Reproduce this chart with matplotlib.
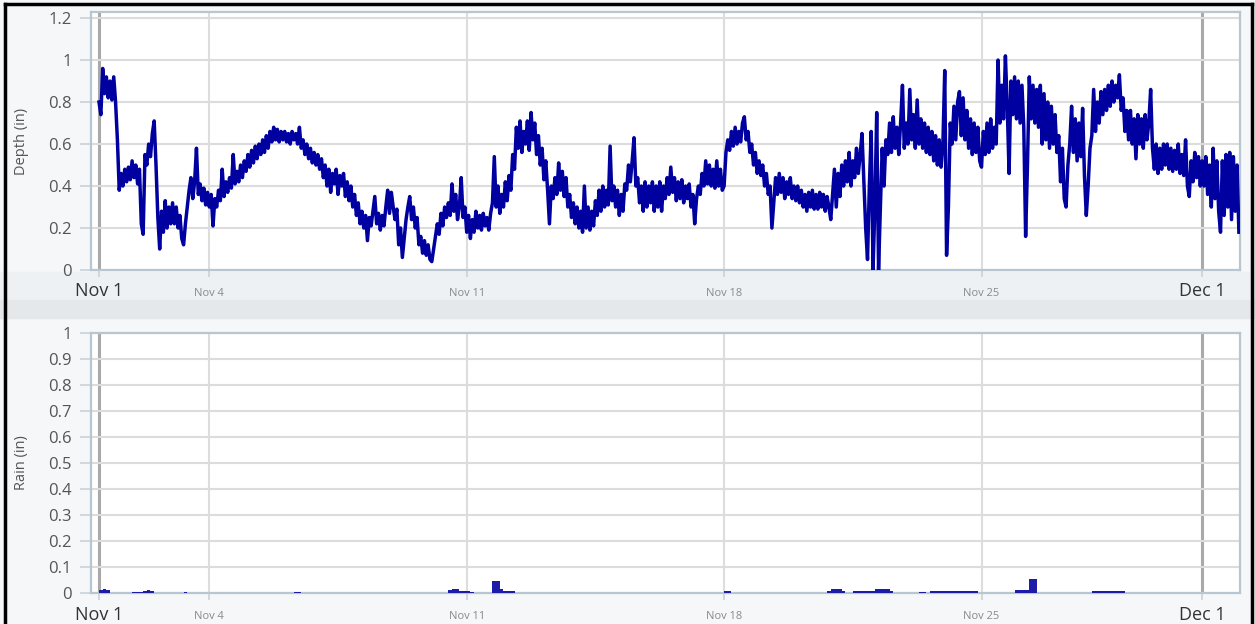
import matplotlib.pyplot as plt
from matplotlib.patches import Rectangle
from matplotlib.lines import Line2D
import pandas as pd

plt.rcParams['font.family'] = ['Open Sans', 'DejaVu Sans']

START = pd.Timestamp('2019-11-01')

# depth (in), one reading every 0.05 day (72 min) from Nov 1
# (one row = one day, 20 readings)
depth_in = [
    0.80, 0.74, 0.96, 0.84, 0.92, 0.82, 0.90, 0.81, 0.92, 0.80, 0.62, 0.38, 0.46, 0.40, 0.48, 0.42, 0.49, 0.43, 0.52, 0.44,
    0.50, 0.41, 0.48, 0.22, 0.17, 0.55, 0.50, 0.60, 0.54, 0.65, 0.71, 0.50, 0.25, 0.10, 0.28, 0.18, 0.33, 0.20, 0.30, 0.22,
    0.32, 0.22, 0.30, 0.20, 0.26, 0.15, 0.12, 0.22, 0.30, 0.38, 0.44, 0.34, 0.42, 0.58, 0.36, 0.41, 0.33, 0.39, 0.31, 0.37,
    0.30, 0.36, 0.21, 0.34, 0.30, 0.38, 0.33, 0.48, 0.35, 0.42, 0.37, 0.44, 0.39, 0.55, 0.41, 0.47, 0.42, 0.50, 0.44, 0.52,
    0.47, 0.55, 0.49, 0.57, 0.51, 0.59, 0.53, 0.60, 0.55, 0.62, 0.56, 0.64, 0.58, 0.66, 0.61, 0.68, 0.62, 0.67, 0.61, 0.66,
    0.62, 0.66, 0.61, 0.65, 0.60, 0.66, 0.62, 0.65, 0.60, 0.68, 0.58, 0.62, 0.55, 0.60, 0.53, 0.58, 0.51, 0.56, 0.50, 0.55,
    0.48, 0.53, 0.44, 0.50, 0.40, 0.48, 0.37, 0.46, 0.41, 0.48, 0.36, 0.45, 0.40, 0.46, 0.35, 0.42, 0.33, 0.40, 0.30, 0.36,
    0.26, 0.32, 0.22, 0.28, 0.20, 0.26, 0.14, 0.25, 0.21, 0.28, 0.35, 0.22, 0.27, 0.19, 0.26, 0.21, 0.30, 0.38, 0.27, 0.37,
    0.30, 0.24, 0.29, 0.12, 0.20, 0.06, 0.15, 0.24, 0.30, 0.35, 0.24, 0.30, 0.20, 0.25, 0.12, 0.16, 0.08, 0.14, 0.07, 0.12,
    0.05, 0.04, 0.10, 0.16, 0.22, 0.17, 0.27, 0.21, 0.30, 0.25, 0.32, 0.26, 0.41, 0.28, 0.36, 0.24, 0.30, 0.44, 0.25, 0.30,
    0.18, 0.26, 0.15, 0.24, 0.18, 0.28, 0.20, 0.26, 0.19, 0.27, 0.21, 0.25, 0.19, 0.27, 0.32, 0.54, 0.30, 0.40, 0.27, 0.36,
    0.30, 0.42, 0.33, 0.45, 0.38, 0.55, 0.48, 0.68, 0.58, 0.71, 0.56, 0.66, 0.60, 0.71, 0.57, 0.75, 0.62, 0.70, 0.55, 0.64,
    0.50, 0.58, 0.43, 0.52, 0.38, 0.22, 0.40, 0.34, 0.44, 0.36, 0.51, 0.38, 0.47, 0.35, 0.44, 0.30, 0.36, 0.25, 0.32, 0.22,
    0.30, 0.20, 0.28, 0.18, 0.40, 0.20, 0.30, 0.19, 0.28, 0.21, 0.33, 0.26, 0.38, 0.28, 0.40, 0.30, 0.38, 0.31, 0.59, 0.33,
    0.40, 0.30, 0.38, 0.26, 0.36, 0.28, 0.41, 0.38, 0.50, 0.42, 0.52, 0.63, 0.40, 0.44, 0.32, 0.40, 0.28, 0.42, 0.30, 0.40,
    0.32, 0.42, 0.28, 0.40, 0.30, 0.42, 0.28, 0.40, 0.34, 0.44, 0.36, 0.49, 0.37, 0.44, 0.33, 0.42, 0.34, 0.43, 0.32, 0.40,
    0.34, 0.41, 0.30, 0.36, 0.22, 0.34, 0.40, 0.36, 0.46, 0.40, 0.52, 0.41, 0.50, 0.40, 0.48, 0.39, 0.52, 0.40, 0.48, 0.38,
    0.40, 0.56, 0.62, 0.57, 0.66, 0.59, 0.68, 0.60, 0.66, 0.61, 0.70, 0.73, 0.62, 0.66, 0.56, 0.60, 0.50, 0.56, 0.46, 0.52,
    0.45, 0.50, 0.40, 0.46, 0.36, 0.40, 0.20, 0.32, 0.44, 0.36, 0.46, 0.37, 0.44, 0.34, 0.42, 0.36, 0.44, 0.34, 0.40, 0.33,
    0.40, 0.32, 0.38, 0.30, 0.36, 0.28, 0.37, 0.30, 0.38, 0.29, 0.36, 0.29, 0.37, 0.30, 0.36, 0.28, 0.35, 0.30, 0.24, 0.36,
    0.48, 0.30, 0.46, 0.35, 0.50, 0.40, 0.52, 0.42, 0.56, 0.40, 0.52, 0.44, 0.58, 0.46, 0.55, 0.65, 0.42, 0.20, 0.05, 0.40,
    0.66, 0.00, 0.30, 0.75, 0.00, 0.30, 0.58, 0.40, 0.62, 0.55, 0.70, 0.56, 0.73, 0.58, 0.68, 0.55, 0.70, 0.88, 0.58, 0.70,
    0.60, 0.86, 0.62, 0.74, 0.58, 0.81, 0.60, 0.72, 0.58, 0.70, 0.56, 0.68, 0.55, 0.66, 0.52, 0.64, 0.50, 0.62, 0.49, 0.60,
    0.95, 0.07, 0.30, 0.70, 0.60, 0.78, 0.62, 0.80, 0.85, 0.64, 0.82, 0.62, 0.76, 0.58, 0.72, 0.55, 0.70, 0.56, 0.68, 0.52,
    0.49, 0.66, 0.55, 0.70, 0.56, 0.72, 0.58, 0.68, 0.60, 1.00, 0.70, 0.88, 0.72, 1.02, 0.78, 0.46, 0.90, 0.74, 0.92, 0.72,
    0.90, 0.70, 0.88, 0.68, 0.16, 0.50, 0.92, 0.72, 0.88, 0.70, 0.86, 0.68, 0.88, 0.60, 0.84, 0.62, 0.80, 0.58, 0.78, 0.60,
    0.74, 0.56, 0.64, 0.42, 0.58, 0.34, 0.30, 0.50, 0.60, 0.78, 0.56, 0.72, 0.52, 0.70, 0.54, 0.77, 0.45, 0.26, 0.40, 0.58,
    0.64, 0.86, 0.66, 0.80, 0.70, 0.85, 0.74, 0.86, 0.76, 0.88, 0.78, 0.90, 0.80, 0.88, 0.82, 0.93, 0.76, 0.82, 0.66, 0.76,
    0.62, 0.76, 0.60, 0.72, 0.53, 0.74, 0.60, 0.72, 0.58, 0.74, 0.62, 0.70, 0.86, 0.58, 0.48, 0.60, 0.46, 0.58, 0.48, 0.60,
    0.50, 0.60, 0.48, 0.58, 0.47, 0.57, 0.48, 0.60, 0.46, 0.55, 0.45, 0.62, 0.40, 0.35, 0.52, 0.42, 0.56, 0.44, 0.54, 0.40,
    0.52, 0.40, 0.54, 0.36, 0.50, 0.30, 0.58, 0.34, 0.52, 0.28, 0.18, 0.52, 0.26, 0.55, 0.30, 0.56, 0.24, 0.54, 0.28, 0.50,
    0.18,
]

# rain (in) in 0.1-day bins, day offset from Nov 1
rain_day = [0.0, 0.1, 0.2, 0.9, 1.0, 1.1, 1.2, 1.3, 1.4, 2.3, 5.3, 5.4,
            9.5, 9.6, 9.7, 9.8, 9.9, 10.0, 10.1, 10.7, 10.8, 10.9, 11.0, 11.1, 11.2,
            17.0, 17.1, 19.8, 19.9, 20.0, 20.1, 20.2,
            20.5, 20.6, 20.7, 20.8, 20.9, 21.0, 21.1, 21.2, 21.3, 21.4, 21.5,
            22.3, 22.4, 22.6, 22.7, 22.8, 22.9, 23.0, 23.1, 23.2, 23.3, 23.4,
            23.5, 23.6, 23.7, 23.8, 24.9, 25.0, 25.1, 25.2, 25.3, 25.4,
            27.0, 27.1, 27.2, 27.3, 27.4, 27.5, 27.6, 27.7, 27.8]
rain_in = [0.010, 0.014, 0.010, 0.004, 0.004, 0.004, 0.006, 0.012, 0.006, 0.004, 0.005, 0.005,
           0.012, 0.015, 0.015, 0.006, 0.006, 0.006, 0.005, 0.045, 0.045, 0.015, 0.008, 0.006, 0.006,
           0.006, 0.006, 0.007, 0.015, 0.015, 0.015, 0.007,
           0.006, 0.006, 0.006, 0.006, 0.006, 0.006, 0.015, 0.015, 0.015, 0.015, 0.006,
           0.005, 0.005, 0.007, 0.007, 0.007, 0.007, 0.007, 0.007, 0.007, 0.007, 0.007,
           0.007, 0.007, 0.007, 0.007, 0.010, 0.010, 0.010, 0.010, 0.054, 0.054,
           0.007, 0.007, 0.007, 0.007, 0.007, 0.007, 0.007, 0.007, 0.007]

tick_day = [0, 3, 10, 17, 24, 30]
tick_labels = ['Nov 1', 'Nov 4', 'Nov 11', 'Nov 18', 'Nov 25', 'Dec 1']
big_labels = ['Nov 1', 'Dec 1']

depth_ticks = [0, 0.2, 0.4, 0.6, 0.8, 1.0, 1.2]
depth_labels = ['0', '0.2', '0.4', '0.6', '0.8', '1', '1.2']
rain_ticks = [0, 0.1, 0.2, 0.3, 0.4, 0.5, 0.6, 0.7, 0.8, 0.9, 1.0]
rain_labels = ['0', '0.1', '0.2', '0.3', '0.4', '0.5', '0.6', '0.7', '0.8', '0.9', '1']

depth_time = pd.date_range(START, periods=len(depth_in), freq='72min')
rain_time = [START + pd.Timedelta(days=d) for d in rain_day]
tick_time = [START + pd.Timedelta(days=d) for d in tick_day]

W, H = 1255, 624
fig = plt.figure(figsize=(W / 100, H / 100), dpi=100, facecolor='#f5f7f9')

# grey band between panels
fig.patches.append(Rectangle((0, (H - 300) / H), 1, 28 / H, transform=fig.transFigure,
                             color='#eef1f3', zorder=-2))
fig.patches.append(Rectangle((0, (H - 318) / H), 1, 18 / H, transform=fig.transFigure,
                             color='#e5e8eb', zorder=-1))

L, R = 91, 1240
ax1 = fig.add_axes([L / W, (H - 270) / H, (R - L) / W, 258 / H])
ax2 = fig.add_axes([L / W, (H - 593) / H, (R - L) / W, 260 / H])

ax1.plot(depth_time, depth_in, color='#0000a0', lw=2.5, zorder=3)
ax2.bar(rain_time, rain_in, width=0.1, align='edge', color='#1c1ca8', linewidth=0, zorder=3)

x0 = START - pd.Timedelta(days=0.218)
x1 = START + pd.Timedelta(days=31.03)

for ax, yt, yl, ymax, name in [(ax1, depth_ticks, depth_labels, 1.229, 'Depth (in)'),
                               (ax2, rain_ticks, rain_labels, 1.0, 'Rain (in)')]:
    ax.set_facecolor('white')
    ax.set_xlim(x0, x1)
    ax.set_ylim(0, ymax)
    ax.set_yticks(yt)
    ax.set_yticklabels(yl, fontsize=12, color='#555555')
    ax.tick_params(axis='y', length=8, width=1.2, color='#c9d2d9', pad=6)
    ax.set_xticks(tick_time)
    ax.set_xticklabels(tick_labels)
    ax.tick_params(axis='x', length=5, width=1.2, color='#c9d2d9')
    ax.grid(axis='y', color='#dcdcdc', lw=1.5, zorder=0)
    ax.grid(axis='x', color='#dddddd', lw=1.5, zorder=0)
    for lab, gl, tk in zip(tick_labels, ax.get_xgridlines(), ax.xaxis.get_major_ticks()):
        if lab in big_labels:
            gl.set_color('#a9a9a9')
            gl.set_linewidth(2.2)
            tk.label1.set_fontsize(13)
            tk.label1.set_color('#333333')
            tk.set_pad(4)
        else:
            tk.label1.set_fontsize(8)
            tk.label1.set_color('#8a8a8a')
            tk.set_pad(8)
    for sp in ax.spines.values():
        sp.set_color('#b7c6d1')
        sp.set_linewidth(1.6)
    ax.set_ylabel(name, fontsize=10.5, color='#555555')
    ax.yaxis.set_label_coords(-0.054, 0.5)

# black outline of the screenshot
for xs, ys in [([5 / W, 5 / W], [0, 1 - 4 / H]),
               ([5 / W, 1 - 3 / W], [1 - 4 / H, 1 - 4 / H]),
               ([1 - 3 / W, 1 - 3 / W], [0, 1 - 4 / H])]:
    fig.add_artist(Line2D(xs, ys, transform=fig.transFigure, color='black', lw=2.5))

fig.savefig('out.png', dpi=100, facecolor=fig.get_facecolor())
